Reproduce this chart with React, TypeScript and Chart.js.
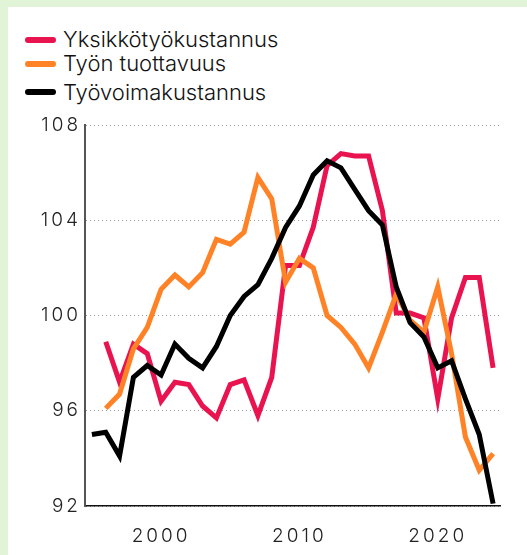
import React, { useEffect, useRef } from 'react';
import { Chart, registerables } from 'chart.js';

Chart.register(...registerables);

const years = [
  '1995', '1996', '1997', '1998', '1999', '2000', '2001', '2002', '2003', '2004',
  '2005', '2006', '2007', '2008', '2009', '2010', '2011', '2012', '2013', '2014',
  '2015', '2016', '2017', '2018', '2019', '2020', '2021', '2022', '2023', '2024',
];
const shownYears = ['2000', '2010', '2020'];

const unitLaborCost = [
  null, 98.9, 97.2, 98.8, 98.4, 96.4, 97.2, 97.1, 96.2, 95.7,
  97.1, 97.3, 95.8, 97.4, 102.1, 102.1, 103.7, 106.3, 106.8, 106.7,
  106.7, 104.4, 100.1, 100.1, 99.9, 96.5, 99.9, 101.6, 101.6, 97.8,
];
const productivity = [
  null, 96.1, 96.7, 98.6, 99.5, 101.1, 101.7, 101.2, 101.8, 103.2,
  103.0, 103.5, 105.8, 104.9, 101.4, 102.4, 102.0, 100.0, 99.5, 98.8,
  97.8, 99.3, 100.9, 99.8, 99.3, 101.2, 98.4, 94.9, 93.5, 94.2,
];
const laborCost = [
  95.0, 95.1, 94.1, 97.4, 97.9, 97.5, 98.8, 98.2, 97.8, 98.7,
  100.0, 100.8, 101.3, 102.4, 103.7, 104.6, 105.9, 106.5, 106.2, 105.3,
  104.4, 103.8, 101.2, 99.7, 99.1, 97.8, 98.1, 96.5, 95.0, 92.1,
];

const yMin = 92;
const yMax = 108;
const yStep = 4;

const seriesNames = ['Yksikkötyökustannus', 'Työn tuottavuus', 'Työvoimakustannus'];
const seriesColors = ['#E8134F', '#FF8326', '#000000'];

const FONT = 'Inter, "Noto Sans", sans-serif';

const letterSpacingPlugin = {
  id: 'tickLetterSpacing',
  beforeDraw(chart: any) {
    (chart.ctx as any).letterSpacing = '3px';
  },
  afterDraw(chart: any) {
    (chart.ctx as any).letterSpacing = '0px';
  },
};

export default function App() {
  const canvasRef = useRef<HTMLCanvasElement | null>(null);

  useEffect(() => {
    if (!canvasRef.current) return;
    const chart = new Chart(canvasRef.current, {
      type: 'line',
      data: {
        labels: years,
        datasets: [
          {
            label: seriesNames[0],
            data: unitLaborCost,
            borderColor: seriesColors[0],
            backgroundColor: seriesColors[0],
            borderWidth: 5,
            pointRadius: 0,
            tension: 0,
            order: 2,
          },
          {
            label: seriesNames[1],
            data: productivity,
            borderColor: seriesColors[1],
            backgroundColor: seriesColors[1],
            borderWidth: 5,
            pointRadius: 0,
            tension: 0,
            order: 1,
          },
          {
            label: seriesNames[2],
            data: laborCost,
            borderColor: seriesColors[2],
            backgroundColor: seriesColors[2],
            borderWidth: 5,
            pointRadius: 0,
            tension: 0,
            order: 0,
          },
        ],
      },
      plugins: [letterSpacingPlugin],
      options: {
        responsive: false,
        animation: false,
        devicePixelRatio: 1,
        layout: { padding: { top: 125, right: 27, left: 0, bottom: 0 } },
        plugins: {
          legend: { display: false },
          tooltip: { enabled: false },
        },
        scales: {
          x: {
            type: 'category',
            offset: true,
            grid: { display: false, drawTicks: false },
            border: { display: true, color: '#111', width: 1.5 },
            ticks: {
              autoSkip: false,
              maxRotation: 0,
              padding: 19,
              color: '#222',
              font: { family: FONT, size: 19, weight: 300 },
              callback: function (this: any, _v: any, i: number) {
                const l = years[i];
                return shownYears.includes(l) ? l : '';
              },
            },
            afterFit: (s: any) => {
              s.height = 49;
            },
          },
          y: {
            min: yMin,
            max: yMax,
            grid: { color: '#9a9a9a', lineWidth: 1, drawTicks: false },
            border: { display: true, color: '#555', width: 2, dash: [1, 3] },
            ticks: {
              stepSize: yStep,
              padding: 4,
              color: '#222',
              font: { family: FONT, size: 19, weight: 300 },
            },
            afterFit: (s: any) => {
              s.width = 85;
            },
          },
        },
      },
    });
    return () => chart.destroy();
  }, []);

  const rows = [
    { center: 40, baseline: 47.7 },
    { center: 64, baseline: 71.7 },
    { center: 92, baseline: 100.7 },
  ];

  return (
    <div
      style={{
        position: 'absolute',
        left: 0,
        top: 0,
        width: 527,
        height: 555,
        background: '#E2F4D8',
        overflow: 'hidden',
      }}
    >
      <div
        style={{
          position: 'absolute',
          left: 8,
          top: 7,
          width: 519,
          height: 548,
          background: '#ffffff',
        }}
      />
      {rows.map((r, i) => (
        <React.Fragment key={seriesNames[i]}>
          <div
            style={{
              position: 'absolute',
              left: 25,
              top: r.center - 3,
              width: 31,
              height: 6,
              borderRadius: 3,
              background: seriesColors[i],
            }}
          />
          <div
            style={{
              position: 'absolute',
              left: 63,
              top: r.baseline - 21,
              fontFamily: FONT,
              fontSize: 22,
              fontWeight: 300,
              lineHeight: '25px',
              color: '#111',
              whiteSpace: 'nowrap',
            }}
          >
            {seriesNames[i]}
          </div>
        </React.Fragment>
      ))}
      <canvas
        ref={canvasRef}
        width={527}
        height={555}
        style={{ position: 'absolute', left: 0, top: 0, width: 527, height: 555 }}
      />
    </div>
  );
}
